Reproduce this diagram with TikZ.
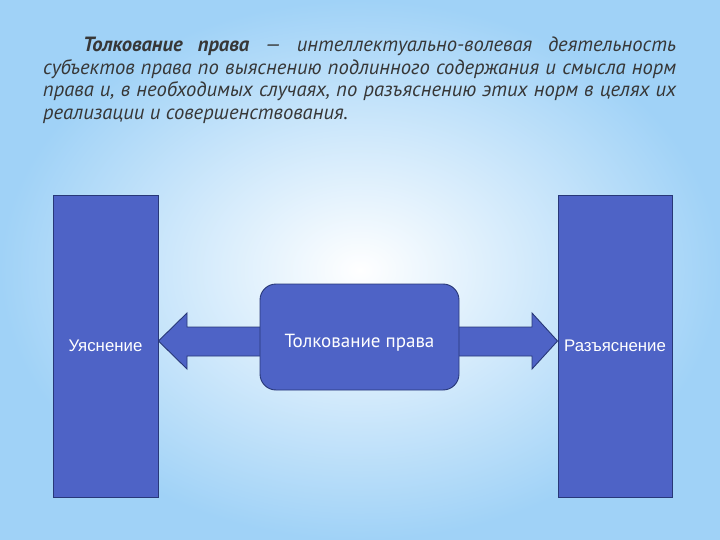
\documentclass[tikz,border=0pt]{standalone}
\usepackage{fontspec}
\setmainfont{PT Sans}
\newfontfamily\arialfont{Liberation Sans}
\definecolor{bgblue}{RGB}{160,210,247}
\definecolor{boxblue}{RGB}{78,99,198}
\definecolor{boxline}{RGB}{40,56,120}
\definecolor{txtgray}{RGB}{55,55,55}
\begin{document}
\begin{tikzpicture}[x=1pt,y=-1pt]
        \tikzstyle{column}=[draw=boxline,line width=0.9pt,fill=boxblue,text=white,inner sep=0pt,font=\arialfont\fontsize{16.8}{19}\selectfont]
        \tikzstyle{mainbox}=[draw=boxline,line width=0.9pt,fill=boxblue,text=white,rounded corners=16pt,inner sep=0pt,text height=21.5pt,text depth=0pt,font=\fontsize{19}{22}\selectfont]
        \tikzstyle{blockarrow}=[draw=boxline,line width=0.9pt,fill=boxblue,line join=miter]

        % background
        \shade[inner color=white,outer color=bgblue] (0,0) rectangle (720,540);
        \useasboundingbox (0,0) rectangle (720,540);

        % definition
        \node[anchor=north west,inner sep=0pt,text width=633pt,align=justify,text=txtgray,
              font=\itshape\fontsize{20.6}{22.4}\selectfont] (defn) at (43,37)
              {\hspace*{40pt}\textbf{Толкование права} --- интеллектуально-волевая деятельность субъектов права по выяснению подлинного содержания и смысла норм права и, в необходимых случаях, по разъяснению этих норм в целях их реализации и совершенствования.};

        \node[column,minimum width=105pt,minimum height=302pt] (uyas) at (105.5,346) {Уяснение};
        \node[column,minimum width=114pt,minimum height=302pt] (razj) at (615,346) {Разъяснение};

        \coordinate (lin) at (290,341);
        \coordinate (rin) at (430,341);

        \draw[blockarrow] (lin) ++(0,-14) -- (187,327) -- (187,313) -- (uyas.east |- lin)
                -- (187,369) -- (187,356) -- ++(103,0) -- cycle;
        \draw[blockarrow] (rin) ++(0,-14) -- (532,327) -- (532,313) -- (razj.west |- rin)
                -- (532,369) -- (532,356) -- ++(-102,0) -- cycle;

        \node[mainbox,minimum width=199pt,minimum height=106pt] (tolk) at (359.5,337) {Толкование права};

    \end{tikzpicture}
\end{document}
